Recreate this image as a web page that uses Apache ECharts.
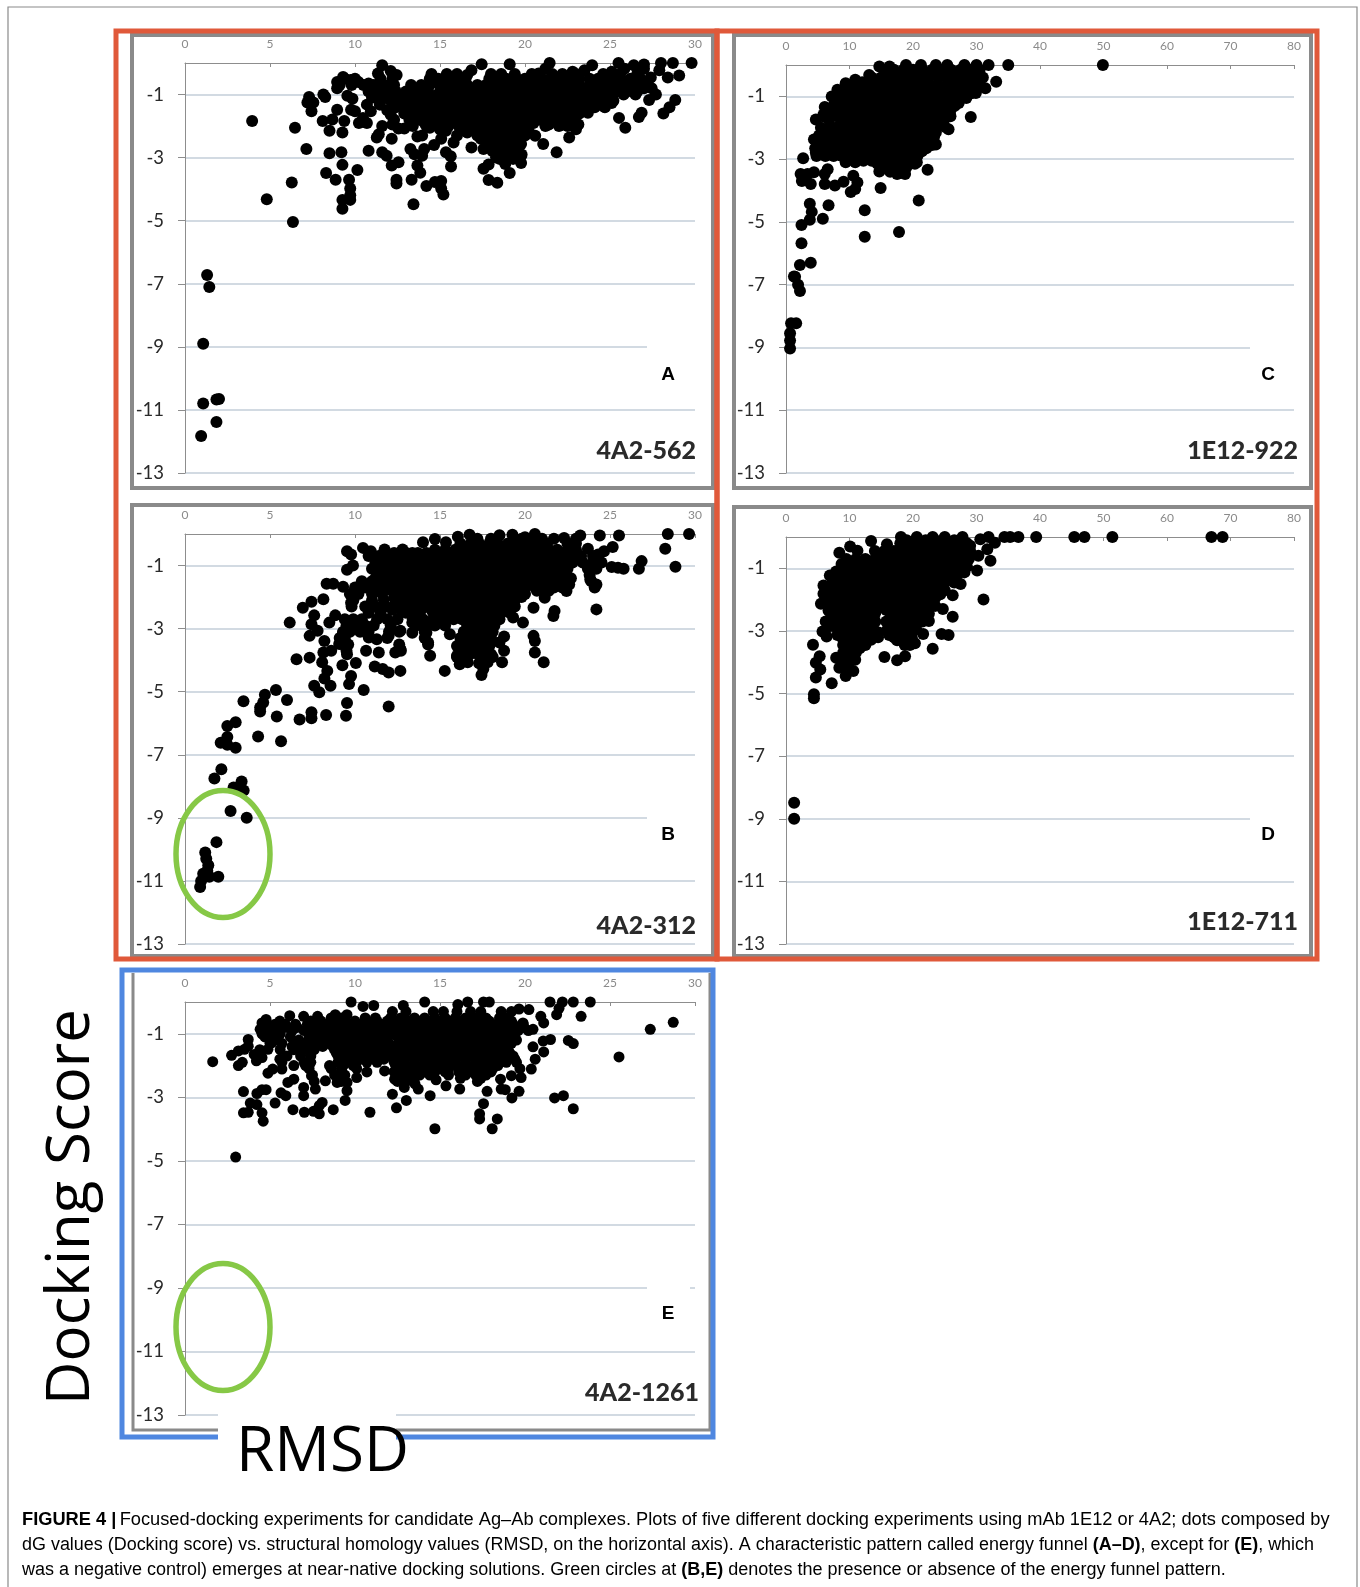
<!DOCTYPE html>
<html><head><meta charset="utf-8">
<style>html,body{margin:0;padding:0;background:#fff}#c{width:1360px;height:1587px}</style>
<script src="https://cdn.jsdelivr.net/npm/echarts@6/dist/echarts.min.js"></script>
</head><body><div id="c"></div>
<script>
const yTickValues=[-13,-11,-9,-7,-5,-3,-1];
const panelNames=['4A2-562','4A2-312','1E12-922','1E12-711','4A2-1261'];
const panelLetters=['A','B','C','D','E'];

const edgeA=[[3.95,-1.84],[6.47,-2.05],[7.14,-2.73],[6.28,-3.79],[4.81,-4.32],[6.35,-5.04],[1.3,-6.72],[1.43,-7.1],[1.07,-8.9],[1.07,-10.8],[1.85,-10.67],[2.0,-10.65],[1.85,-11.38],[0.95,-11.83],
[7.3,-1.08],[7.2,-1.25],[7.55,-1.25],[7.44,-1.53],[8.14,-1.0],[8.25,-1.08],[8.1,-1.84],[8.67,-1.79],[9.37,-1.84],[8.95,-1.48],[8.5,-2.15],[9.26,-2.2],[8.5,-2.86],[9.2,-2.83],[9.26,-3.23],[8.3,-3.49],[8.86,-3.7],[9.65,-3.7],[10.14,-3.39],[9.72,-3.98],[9.72,-4.19],[9.72,-4.34],[9.26,-4.34],[9.26,-4.62],[10.8,-2.78],[11.6,-2.83],[11.86,-2.94],[12.16,-3.25],[12.56,-3.15],[12.44,-3.7],[12.44,-3.82],[13.33,-3.7],[13.44,-4.48],[14.2,-3.9],[14.7,-3.77],[15.07,-3.74],[15.07,-3.98],[15.2,-4.17],[13.26,-2.73],[13.5,-2.89],[13.95,-2.94],[13.67,-3.25],[13.84,-3.48],[14.07,-2.73],[14.65,-2.6],[15.07,-2.4],[15.35,-2.83],[15.63,-2.96],[15.65,-3.28],[17.56,-3.35],[17.86,-3.22],[17.86,-3.71],[18.37,-3.8],[19.1,-3.49],[19.77,-3.17],[21.07,-2.57],[21.86,-2.83],[22.6,-2.36],[25.53,-1.74],[25.9,-2.05],[26.7,-1.71],[26.86,-1.58],[28.14,-1.6],[28.5,-1.4],[28.84,-1.17],
[29.8,0],[29.07,-0.4],[28,0],[28.7,0],[27,-0.05],[11.6,-0.07],[11.35,-0.33],[12.1,-0.25],[12.45,-0.38],[17.45,-0.04],[16.85,-0.23],[16.6,-0.38],[19.1,-0.04],[21.45,0],[21.2,-0.18],[20.8,-0.33],[23.95,-0.07],[23.5,-0.23],[22.8,-0.28],[25.5,0],[26.4,-0.07],[25.85,-0.18],[25.1,-0.28],[27,-0.18],[27.9,-0.23],[28.4,-0.46],[27.4,-0.46],
[9.3,-0.44],[8.95,-0.6],[8.95,-0.8],[9.75,-0.54],[10.2,-0.6],[10.8,-0.65],[9.55,-1.04],[9.85,-1.13],[9.77,-1.48],[10,-1.53],[10.7,-1.32],[10.93,-1.53],[10.47,-1.74],[10.23,-1.9],[10.7,-1.9],[11.46,-1.32],[11.6,-2],[11.4,-2.26],[11.28,-2.36],[12.16,-2.4],[12.1,-1.64],[12.3,-1.8],[12.2,-1.95],[12.56,-2.08],[12.9,-2.08],[13.4,-2],[13.67,-2.33],[13.95,-2.3],[14.4,-2.05],[15.35,-2.15],[15.8,-2.52],[16,-2.3],[16.6,-2.2],[16.85,-2.68],[17.56,-2.73],[17.9,-2.52],[18.5,-3.04],[18.84,-3.2],[19.3,-3.04],[19.77,-2.94],[19.77,-2.57],[20.6,-2.31],[21.2,-2],[21.4,-1.95],[22.1,-1.95],[23.14,-1.95],[23,-2.1],[23.7,-1.58],[24.65,-1.38],[25.1,-1.27],[27.3,-1.17],[27.7,-1],[27.45,-0.8],[26.5,-1],[25.8,-1]];
const coreA=[
[-0.35,[14.5,15.4,16,18,18.6,19.4,20.4,21.6,22.2,23,24.6,25.6,26.6]],
[-0.5,[9.4,10,11.5,12.2,14.4,14.9,15.5,16,16.5,17.9,18.4,18.9,19.5,20,20.5,21,21.5,22,22.6,23.2,23.8,24.3,25,25.6,26.2,26.8]],
[-0.6,[24.8,25.4,26,26.6,27.2]],
[-0.7,[9.1,9.8,10.5,11.1,11.7,12.3,13.3,13.9,14.4,15,15.5,16.1,16.6,17.2,17.7,18.3,18.8,19.4,19.9,20.5,21,21.6,22.1,22.7,23.2,23.8,24.3,24.9,25.4,26,26.5,27.1]],
[-0.8,[27,25.9,26.3,24.6,25.1]],
[-0.9,[10.8,11.3,11.9,12.4,13,13.5,14.1,15,15.5,16,16.6,17.1,17.7,18.2,18.8,19.3,19.9,20.4,21,21.5,22.1,22.6,23.2,23.7,24.3,24.8,25.4,26,26.6]],
[-1,[13.8,14.4,14.9]],
[-1.1,[11,11.7,12.3,12.9,13.4,15.2,15.7,16.2,16.8,17.3,17.9,18.4,19,19.5,20.1,20.6,21.2,21.7,22.3,22.8,23.4,23.9,24.5,25]],
[-1.2,[13.8,14.3,14.8,12.1,11.5,25.2,24.3,23.4]],
[-1.3,[12.6,13.2,13.7,14.3,14.8,15.4,15.9,16.5,17,17.6,18.1,18.7,19.2,19.8,20.3,20.9,21.4,22,22.5,23.1,23.6,24.1,24.6]],
[-1.4,[12.4,13,13.5,14,14.5,15,15.6,16.1,16.7,17.2,23.6,24.1,24.7,22.7,22.2]],
[-1.5,[11.9,13,13.6,14.1,14.7,15.2,15.8,16.3,16.9,17.4,18,18.5,19.1,19.6,20.2,20.7,21.3,21.8,22.4,22.9,23.4]],
[-1.6,[12.9,13.5,14.2,14.8,15.3,15.9,16.5,17,17.5,21.5,22,22.6,23.2]],
[-1.7,[13.9,14.5,15,15.6,16.2,17.4,17.9,18.5,19,19.6,20.1,20.7,21.2,21.8,22.3,22.8]],
[-1.8,[13.2,13.8,14.3,15,15.6,16.1,16.7,20.4,20.9,21.5,22,22.6]],
[-1.9,[14.1,14.8,15.4,16.6,17.2,17.7,18.3,18.8,19.4,19.9,20.5]],
[-2,[14.2,14.9,15.5,16.1,16.7,22,22.5]],
[-2.1,[15,16.4,17,17.5,18.1,18.6,19.2,19.7,20.2]],
[-2.3,[17.2,17.8,18.3,18.9,19.4,20]],
[-2.4,[17.4,18,18.6,19.2,19.7]],
[-2.5,[18,18.5,19,19.6]],
[-2.6,[18.2,18.8,19.3]],
[-2.7,[18.4,18.9,19.5]],
[-2.8,[18.1,18.7,19.2]],
[-2.9,[18.6,19.2,19.8]],
[-3,[18.3,18.8,19.3]]];

const edgeB=[[29.65,0],[28.4,0],[28.25,-0.47],[28.85,-1.04],[26.86,-0.86],[26.7,-1.1],[25.8,-1.1],[25.47,-1.07],[25.1,-1.05],[25.53,-0.05],[24.4,-0.05],[23.25,-0.05],[25.16,-0.41],[24.65,-0.55],[24.3,-0.65],[23.7,-0.47],[24.2,-2.39],[24.2,-1.6],[23.84,-1.44],[22.44,-1.81],[21.74,-2.44],[21.67,-2.6],[21.16,-2.02],[20.5,-2.34],[20.5,-3.23],[20.58,-3.39],[20.58,-3.76],[21.1,-4.07],[19.88,-2.81],[19.3,-2.65],[18.77,-3.25],[18.5,-3.44],[18.77,-3.7],[18.65,-4.07],[18,-3.81],[17.8,-4.07],[17.55,-4.28],[17.44,-4.47],[17.9,-3.55],[17,-3.23],[16.86,-3.44],[17,-3.76],[16.63,-4.07],[16.16,-4.13],[16,-3.86],[16,-3.55],[15.28,-4.34],[14.42,-3.86],[14.3,-3.44],[14.2,-3.13],[15.58,-3.18],[13.37,-3.13],[13.37,-2.81],[12.67,-3.07],[12.67,-3.65],[12.37,-3.76],[12.67,-4.34],[11.98,-4.39],[11.63,-4.28],[11.16,-4.2],[11.4,-3.76],[10.65,-3.7],[11.98,-3.23],[11.28,-3.34],[10.81,-3.28],[10.05,-4.09],[9.26,-4.16],[9.77,-4.5],[9.65,-4.76],[10.51,-4.95],[9.53,-5.36],[9.47,-5.76],[11.98,-5.47],[8.3,-5.74],[7.44,-5.65],[7.44,-5.84],[6.74,-5.88],[8.56,-4.81],[8.2,-4.58],[8.37,-4.34],[7.9,-5.02],[7.6,-4.81],[8.07,-4.07],[8.14,-3.76],[8.6,-3.7],[8.2,-3.39],[7.33,-3.92],[6.56,-3.97],[7.33,-3.23],[7.8,-3.07],[7.44,-2.86],[7.6,-2.58],[6.16,-2.81],[6.93,-2.34],[7.44,-2.15],[8.14,-2.07],[8.33,-1.58],[8.72,-1.58],[9.3,-1.67],[9.77,-2.18],[8.84,-2.58],[8.49,-2.81],[9.3,-3.13],[9.07,-3.49],[9.53,-3.81],
[9.53,-0.55],[9.77,-0.65],[9.53,-1.13],[9.88,-1],[10.47,-0.44],[10.93,-0.55],[11.74,-0.49],[12.8,-0.49],[13.37,-0.6],[14,-0.26],[14.7,-0.16],[15.35,-0.26],[16.05,-0.09],[16.74,-0.02],[18.5,-0.04],[19.26,-0.02],[20.58,0],[20,-0.1],[22.3,-0.13],
[5.35,-4.95],[4.7,-5.1],[6,-5.26],[3.44,-5.3],[4.6,-5.34],[4.42,-5.5],[4.42,-5.63],[5.4,-5.79],[2.98,-5.97],[2.49,-6.09],[4.3,-6.42],[5.65,-6.57],[2.49,-6.44],[2.1,-6.62],[2.49,-6.68],[2.98,-6.78],
[2.14,-7.46],[1.73,-7.75],[2.86,-8.04],[3.33,-7.85],[3.45,-8.13],[2.68,-8.78],[3.63,-9.0],[1.85,-9.77],[1.96,-10.87],[1.19,-10.1],[1.25,-10.3],[1.37,-10.5],[1.31,-10.68],[1.07,-10.77],[0.95,-11],[0.89,-11.19],[1.43,-10.87]];
const coreB=[
[-0.15,[17.2,18,19.8,20.6,21,21.7,23]],
[-0.3,[16.2,16.8,17.3,17.9,18.4,19,19.5,20.1,20.7,21.3,22.5,23]],
[-0.5,[14.7,15.3,15.9,16.4,17,17.5,18.1,18.6,19.2,19.7,20.3,20.8,21.4,21.9,22.5,23]],
[-0.6,[11.7,12.3,13,13.7,14.2]],
[-0.7,[10.8,11.4,12.1,12.7,13.3,13.9,14.4,15,15.5,16.1,16.6,17.2,17.7,18.3,18.8,19.4,19.9,20.5,21,21.6,22.1,22.7,23.3,24]],
[-0.8,[11.5,12.1,12.7,13.3,13.8]],
[-0.9,[11.2,11.7,12.3,12.9,13.5,14,14.6,15.1,15.7,16.2,16.8,17.3,17.9,18.4,19,19.5,20.1,20.6,21.2,21.7,22.3,22.8,23.4,24,24.5]],
[-1.1,[11,11.6,12.1,12.7,13.2,13.8,14.3,14.9,15.4,16,16.5,17.1,17.6,18.2,18.7,19.3,19.8,20.4,20.9,21.5,22,22.5,23.7,24.2]],
[-1.2,[11.3,12,12.6,13.1,13.7,14.2,14.8,15.3,15.8]],
[-1.3,[11.7,12.3,12.8,13.4,13.9,14.5,15,15.9,16.4,17,17.5,18.1,18.6,19.2,19.7,20.3,20.8,21.4,21.9,22.4,23.8]],
[-1.4,[11.2,11.8,12.4,13,13.5,14.1,14.6,15.2,15.7,21.1,21.7,22.2,22.7]],
[-1.5,[10.4,11,11.5,12.6,13.2,13.7,14.3,14.8,15.8,16.3,16.9,17.4,18,18.5,19.1,19.6,20.2,20.7,21.3,21.8,22.3,23.9]],
[-1.6,[12.2,12.8,13.4,13.9,14.4,15,15.5,21.4,22,22.6]],
[-1.7,[10,10.6,11.2,11.9,12.5,13,13.5,14.1,14.6,15.7,16.2,16.8,17.3,17.9,18.4,19,19.5,20,20.6,21.1,21.7,22.2,24.1]],
[-1.8,[11.4,12.2,12.8,13.3,13.8,14.3,14.9,15.4,20.7,21.4]],
[-1.9,[9.7,10.2,11,11.6,12.6,13.1,13.6,14.1,15.7,16.3,16.8,17.4,17.9,18.5,19,19.5,20]],
[-2,[12.3,13,13.6,14.2,14.8,15.3,19.8]],
[-2.1,[9.9,11,11.7,12.4,12.9,13.5,14.6,15.6,16.2,16.7,17.3,17.8,18.4,18.9,19.4]],
[-2.2,[13.1,13.7,14.3,15,15.4]],
[-2.3,[9.8,10.6,11.2,11.8,12.3,12.9,13.4,14,14.6,15.1,15.7,16.2,16.8,17.3,17.9,18.4,19,19.4]],
[-2.4,[12.2,12.7,13.3,13.9,14.5,15,15.5]],
[-2.5,[10.8,11.5,13,13.6,14.6,15.2,15.9,16.4,16.9,17.5,18,18.6,19.1]],
[-2.6,[14.8,15.4]],
[-2.7,[9.4,9.9,10.4,11.3,11.9,12.5,13.4,14,14.6,15.2,15.8,16.3,16.9,17.4,18,18.5]],
[-2.9,[9.5,10,10.6,11.1,12.1,13.6,14.1,14.7,15.3,16.6,17.1,17.7,18.2]],
[-3.1,[9.3,9.7,10.3,10.8,12,12.6,14.1,16.4,16.9,17.2,17.6,18.1]],
[-3.3,[9.1,9.4,11.9,14.1,16.2,16.8,17.1,17.4,17.6,18]],
[-3.5,[9.3,9.6,12.6,14.3,16.2,16.7,17,17.4,17.6,17.9]],
[-3.7,[9.5,12.7,16.2,16.6,17.7]],
[-3.8,[16.8,17.2,17.8]],
[-3.9,[16,16.5,17.7,18.1]],
[-4.1,[17.3,17.6]]];

const edgeC=[[49.9,0],[35,0],[33.1,-0.53],[31.4,-0.74],[31.9,0],[29.9,-0.89],[29.1,-1.66],[25.6,-2.05],[25,-1.97],[25.9,-1.63],[27.2,-1.21],[23.6,-2.53],[22.3,-3.34],[20.9,-4.32],[20.6,-3.1],[18.75,-3.47],[17.5,-3.47],[14.7,-3.39],[14.9,-3.92],[17.8,-5.32],[12.4,-4.63],[12.4,-5.47],[10.9,-3.95],[10.2,-4.05],[11.25,-3.74],[10.6,-3.53],[9.06,-3.72],[7.7,-3.84],[6.1,-3.79],[6.7,-4.47],[5.8,-4.9],[3.75,-4.42],[4.06,-4.68],[3.75,-4.93],[2.44,-5.1],[2.44,-5.68],[2.19,-6.37],[3.9,-6.3],[1.25,-6.74],[1.9,-7],[2.2,-7.2],
[2.7,-2.97],[2.3,-3.47],[3.4,-3.47],[4.4,-3.42],[2.5,-3.7],[3.9,-3.79],[6.1,-3.47],[6.56,-3.32],[4.7,-2.79],[4.4,-2.37],[4.7,-1.74],[6.1,-1.34],[5.9,-1.58],[7.2,-1],[8.1,-0.79],[9.4,-0.58],[10.9,-0.47],[13.1,-0.32],[14.7,-0.05],[16.3,-0.05],[18.9,0],[21.25,0],[23.6,0],[25.4,0],[28.1,0],[30,0],[30.3,-0.42],[9.4,-3.1],[10.9,-3.1],[9.9,-2.95],
[1.43,-6.75],[0.8,-8.23],[1.6,-8.23],[0.64,-8.55],[0.64,-8.78],[0.64,-9.03]];
const coreC=[
[-0.15,[15.5,17,18.5,20,21.5,23,24.5,26,27.5,29,30.5]],
[-0.4,[13.5,15,16.5,18,19.5,21,22.5,24,25.5,27,28.5,29.5,31]],
[-0.55,[12,13.2,14.5]],
[-0.65,[11,12.3,13.6,14.9,16.2,17.5,18.8,20.1,21.4,22.7,24,25.3,26.6,27.9,29.2,30.2]],
[-0.8,[9.3,10.5,11.8]],
[-0.9,[8.6,9.9,11.2,12.5,13.8,15.1,16.4,17.7,19,20.3,21.6,22.9,24.2,25.5,26.8,28.1,29.2]],
[-1.0,[8.2,9.4,10.8,12,13.2]],
[-1.05,[27.6,28.4,26.5]],
[-1.15,[8,10.5,11.8,13.1,14.4,15.7,17,18.3,19.6,20.9,22.2,23.5,24.8,26.1,27]],
[-1.25,[7.6,8.8,9.9,11.2]],
[-1.3,[26.6,25.5,24.3]],
[-1.4,[7,9,10.8,12.1,13.4,14.7,16,17.3,18.6,19.9,21.2,22.5,23.8,25.1,26]],
[-1.5,[7.8,9.4,10.4,11.6,12.9]],
[-1.55,[25.8,24.6,23.3]],
[-1.65,[6,8.3,9.6,11,12.3,13.6,14.9,16.2,17.5,18.8,20.1,21.4,22.7,24,25]],
[-1.75,[6.8,8.9,10.2,11.6,13]],
[-1.8,[24.8,23.6]],
[-1.9,[8.5,9.8,11.1,12.4,13.7,15,16.3,17.6,18.9,20.2,21.5,22.8,24]],
[-2.0,[5.5,6.7,7.9,9.1,10.3,11.7,13]],
[-2.15,[6.4,7.7,10.6,11.9,13.2,14.5,15.8,17.1,18.4,19.7,21,22.3,23.6]],
[-2.25,[5.2,5.9,7,8.3,9.4,10.9,12.4,13.8]],
[-2.3,[23.3,22.2]],
[-2.4,[5,6.3,7.6,8.8,10.8,12.1,13.6,15,16.3,17.6,18.9,20.2,21.5,22.8]],
[-2.5,[4.9,5.7,7,8.2,9.4,10.3,11.5,12.9,14.2]],
[-2.55,[23,21.7]],
[-2.65,[4.6,5.9,7.2,8.5,9.7,11.3,12.6,14.3,15.6,16.9,18.2,19.5,20.8,22.1]],
[-2.75,[4.9,5.4,6.6,7.8,9,10.4,12,13.3,14.9,16.2,17.5,18.8,20.1,21.4]],
[-2.9,[4.8,6.2,7.5,8.8,11.6,12.9,14.2,15.5,16.8,18.1,19.4,20.7]],
[-3.05,[12.2,13.5,14.8,16.1,17.4,18.7,19.7]],
[-3.15,[14.4,15.7,17,18.3,20.3]],
[-3.25,[15,16.3,17.7,19]],
[-3.4,[16.4,17.5]]];

const edgeD=[[68.75,0],[67,0],[51.4,0],[47,0],[45.4,0],[39.4,0],[36.6,0],[35.3,0],[34.4,0],[32.9,-0.18],[31.9,0],[30.6,-0.07],[31.7,-0.39],[32.2,-0.76],[30.3,-0.6],[30.1,-1.07],[31.1,-2],[28.1,-1.13],[27.5,-1.5],[26.25,-1.86],[26.25,-2.55],[24.7,-2.3],[25.6,-3.13],[24.5,-3.1],[23.1,-3.57],[22.5,-2.68],[21.6,-3.1],[20.3,-3.39],[18.75,-3.81],[17.5,-3.94],[15.5,-3.83],[16.25,-3.13],[13.4,-3.28],[14.06,-2.7],[11.6,-3.55],[10.9,-3.92],[10.6,-4.28],[9.4,-4.44],[8.4,-4.18],[7.9,-3.86],[7.2,-4.67],[4.7,-4.49],[5.4,-4.23],[4.7,-4.02],[5.3,-3.81],[4.25,-3.44],[4.4,-5.02],[4.4,-5.15],[5.75,-3.02],[6.25,-2.7],[5.5,-2.13],[5.9,-1.81],[5.9,-1.55],[6.9,-1.23],[8.4,-0.5],[10.1,-0.3],[11.25,-0.44],[13.4,-0.13],[15.9,-0.23],[18.1,0],[20.6,0],[23.1,0],[25,0],[27.8,0],[29,-0.28],[8.75,-0.86],[6.4,-3.18],[8.1,-3.13],[9.4,-3.39],[1.28,-8.49],[1.28,-9.0]];
const coreD=[
[-0.1,[19,22,23.5,25,26.5,27.8]],
[-0.2,[18,19.5,21,22.5,24,25.5,27,28.5]],
[-0.45,[14,15.5,17,18.5,20,21.5,23,24.5,26,27.5,29]],
[-0.58,[14.8,16.3,17.8,19.3,20.8,22.3,23.8,25.3,26.8,28.3]],
[-0.7,[9.5,11,12.5,14,15.5,17,18.5,20,21.5,23,24.5,26,27.5,28.8]],
[-0.83,[9.8,11.3,12.8,14.3,15.8,17.3,18.8,20.3,21.8,23.3,24.8,26.3,27.8]],
[-0.95,[9,10.5,12,13.5,15,16.5,18,19.5,21,22.5,24,25.5,27,28.5]],
[-1.08,[9.9,11.3,12.8,14.3,15.8,17.3,18.8,20.3,21.8,23.3,24.8,26.3]],
[-1.1,[7.9,9.2]],
[-1.2,[9.2,10.7,12.2,13.7,15.2,16.7,18.2,19.7,21.2,22.7,24.2,25.7,27]],
[-1.33,[10.7,12.2,13.7,15.2,16.7,18.2,19.7,21.2,22.7,24.2,25.7]],
[-1.35,[7.3,8.9,9.7]],
[-1.45,[7.5,10,11.5,13,14.5,16,17.5,19,20.5,22,23.5,25,26.5]],
[-1.58,[8.5,10.8,12.3,13.8,15.3,16.8,18.3,19.8,21.3,22.8,24.3]],
[-1.6,[6.8,7.8,9.3]],
[-1.7,[7,8.5,10,11.5,13,14.5,16,17.5,19,20.5,22,23.5,25]],
[-1.83,[9.3,10.8,12.3,13.8,15.3,16.8,18.3,19.8,21.3,22.8,24.3]],
[-1.85,[6.3,7.7,8.7]],
[-1.95,[7,8.5,10,11.5,13,14.5,16,17.5,19,20.5,22,23.5]],
[-2.08,[9.3,10.8,12.3,13.8,15.3,16.8,18.3,19.8,21.3,22.8]],
[-2.1,[6.4,7.7,8.6]],
[-2.2,[7.5,9,10.5,12,13.5,15,16.5,18,19.5,21,22.5,23.5]],
[-2.33,[8.3,9.8,11.3,12.8,14.3,15.8,17.3,18.8,20.3,21.8]],
[-2.35,[6.7,7.5,8.9]],
[-2.45,[8,9.5,11,12.5,14,16.5,18,19.5,21,22.5]],
[-2.58,[8.8,10.3,11.8,13.3,17.2,18.7,20.2,21.7]],
[-2.6,[7,7.8]],
[-2.7,[8.5,10,11.5,13,15.8,17.3,18.8,20.3,21.5]],
[-2.83,[9.3,10.8,12.3,16.5,18,19.5]],
[-2.85,[6.8,7.6,8.8]],
[-2.95,[8.2,9.5,11,12.5,13.8,16,17.5,19,20.5]],
[-3.05,[9.2,10.6,11.6,13,14.6,16.6,18,19.5]],
[-3.2,[8.8,10.2,12,14.5,17,18.5,19.8]],
[-3.3,[9.7,10.9,12,17.5]],
[-3.45,[9,10.5,12.5,18.7,19.5]],
[-3.6,[9.5,10.5,11]],
[-3.7,[9,10,11]],
[-3.85,[9.2,10.2]],
[-3.95,[8.7,9.6]],
[-4.1,[9.2,9.8]]];

const edgeE=[[1.63,-1.88],[2.98,-4.88],[2.74,-1.68],[3.14,-1.54],[3.14,-2],[3.37,-1.9],[3.72,-1.18],[3.72,-1.39],[3.5,-1.49],[4.07,-1.65],[4.2,-1.85],[4.53,-1.75],[3.44,-2.82],[4.23,-2.88],[4.53,-2.76],[4.77,-2.76],[4.88,-2.24],[5.16,-2.11],[3.84,-3.18],[4.23,-3.23],[3.44,-3.49],[3.72,-3.47],[4.53,-3.49],[4.6,-3.75],[5.3,-3.18],[5.65,-2.86],[5.93,-2.95],[6.35,-3.39],[6.05,-2.53],[6.4,-2.43],[7.02,-3.47],[7.56,-3.44],[7.9,-3.52],[8.72,-3.39],[8.07,-3.16],[7.9,-3.26],[6.98,-2.95],[6.98,-2.69],[7.67,-2.74],[9.42,-3.1],[9.53,-2.79],[10.88,-3.47],[12.44,-3.33],[13.02,-3.1],[12.2,-2.9],[12.9,-2.69],[13.72,-2.74],[14.42,-2.95],[14.7,-3.99],[13.53,-2.58],[14.77,-2.45],[15.35,-2.64],[16.16,-2.74],[17.56,-3.2],[17.33,-3.52],[17.33,-3.68],[18.37,-3.68],[18.07,-3.99],[17.77,-2.81],[18.6,-2.74],[18.84,-2.76],[18.56,-2.43],[19.23,-3.02],[19.65,-2.81],[19.77,-2.38],[19.2,-2.32],[20.37,-2.11],[20.6,-1.8],[21.1,-1.57],[21.07,-1.23],[21.5,-1.18],[20.47,-1.41],[22.55,-1.21],[22.84,-1.31],[21.74,-3.02],[22.26,-2.95],[22.84,-3.36],[25.53,-1.73],[27.37,-0.86],[28.72,-0.64],
[9.77,0],[10.47,-0.14],[11.1,-0.11],[12.84,-0.11],[14.1,0],[16.05,-0.08],[16.63,0],[17.56,0],[17.9,0],[21.47,0],[22.2,0],[22.84,0],[23.84,0],[21.86,-0.4],[23.3,-0.45],[22,-0.2],[20.93,-0.45],[21.1,-0.66],[20.23,-0.24],[19.65,-0.22],[20.47,-0.86],[19.88,-0.66],[6.16,-0.43],[5.58,-0.6],[4.77,-0.55],[4.53,-0.66],[4.42,-0.86],[4.53,-1],[6.98,-0.45],[7.8,-0.45],[8.84,-0.4],[9.53,-0.4],
[5.12,-1.28],[4.88,-1.49],[5.58,-1.8],[5.7,-2.11],[6.4,-2],[7.1,-2],[7.44,-2.32],[8.5,-2],[8.26,-2.48],[8.95,-2.53],[9.53,-2.53],[10.1,-2.38],[10.7,-2.2],[11.74,-2.17],[12.33,-2.43],[9.3,-2.32]];
const coreE=[
[-0.3,[12.2,13,14.6,15.2,16,16.8,17.4,18.6,19.2]],
[-0.5,[8.6,9.2,10.6,11.2,12.1,12.7,13.5,14.1,14.7,15.3,15.9,16.5,17.1,17.7,18.5,19]],
[-0.6,[7.4,8,8.8,9.4,10,10.6,11.3,11.9,12.5,13.1,13.7,14.3,14.9,15.5,16.1,16.7,17.3,17.9,18.6,19.2]],
[-0.7,[4.8,5.3,5.9,6.5,7.2,7.9,8.5,9.1,9.7,10.3,10.9,11.5,12.1,12.7,13.3,13.9,14.5,15.1,15.7,16.3,16.9,17.5,18.1,18.7,19.3,19.9]],
[-0.8,[5.3,6,6.6,7.3,7.9,8.5,9.1,9.7,10.3,10.9,11.5,12.1,12.7,13.3,13.9,14.5,15.1,15.7,16.3,16.9,17.5,18.1,18.7,19.3,19.9]],
[-0.9,[5,5.6,6.3,7,7.6,8.2,8.8,9.4,10,10.6,11.2,11.8,12.4,13,13.6,14.2,14.8,15.4,16,16.6,17.2,17.8,18.4,19,19.6,20.2]],
[-1,[4.9,5.6,7.6,8.2,8.8,9.4,10,10.6,11.2,12.2,12.8,13.4,14,14.6,15.2,15.8,16.4,17,17.6,18.2,18.8,19.4]],
[-1.1,[4.7,5.3,6.2,7.3,7.9,8.5,9.1,9.7,10.3,10.9,11.5,12.5,13.1,13.7,14.3,14.9,15.5,16.1,16.7,17.3,17.9,18.5,19.1]],
[-1.2,[6.7,7.6,8.2,8.8,9.4,10,10.6,11.2,11.9,12.8,13.4,14,14.6,15.2,15.8,16.4,17,17.6,18.2,18.8,19.5]],
[-1.3,[5,5.7,6.6,7.2,7.8,8.4,9,9.6,10.2,10.8,11.4,12,12.6,13.2,13.8,14.4,15,15.6,16.2,16.8,17.4,18,18.6,19.2]],
[-1.4,[6.3,7,7.5,8.1,8.7,9.3,9.9,10.5,11.1,11.7,12.3,12.9,13.5,14.1,14.7,15.3,15.9,16.5,17.1,17.7,18.3,18.9]],
[-1.5,[4.4,5.6,6.4,7,7.6,8.8,9.4,10,10.6,11.2,11.8,12.4,13,13.6,14.2,14.8,15.4,16,16.6,17.2,17.8,18.4,19]],
[-1.6,[8.9,9.5,10.1,10.7,11.3,11.9,12.5,13.1,13.7,14.3,14.9,15.5,16.1,16.7,17.3,17.9,18.5,19.1]],
[-1.7,[6,6.8,7.4,9,9.6,10.2,10.8,11.4,12,12.6,13.2,13.8,14.4,15,15.6,16.2,16.8,17.4,18,18.6,19.3]],
[-1.8,[9.3,9.9,10.5,11.1,11.7,12.3,12.9,13.5,14.1,14.7,15.3,15.9,16.5,17.1,17.7,18.3,18.9,19.4]],
[-1.9,[5.7,7,7.4,9,9.5,10.1,10.7,11.3,12.3,12.9,13.5,14.1,14.7,15.3,15.9,16.5,17.1,17.7,18.3,18.9,19.5]],
[-2,[9.3,9.9,12.4,13,13.6,14.2,14.8,15.4,16,16.6,17.2,17.8,18.4]],
[-2.1,[7.3,8.6,9.2,10.1,12.5,13.1,13.7,14.3,14.9,15.5,16.1,16.9,17.5,18.1,19.7]],
[-2.2,[13,13.5,14.1,14.7,15.3,16.1,16.7,17.3,18,12.3]],
[-2.3,[7.5,8.8,9.4,12.6,13.2,13.8,14.4,15.5,16.5,17.1,17.7]],
[-2.4,[12.9,13.5,16.2,17.4]],
[-2.5,[7.6,9.2,12.5,13,17.2]]];

function joinPoints(edge,core){
  const out=edge.slice();
  core.forEach(r=>r[1].forEach(x=>out.push([x,r[0]])));
  return out;
}
const layouts=[
 {left:185,top:63,width:510,height:410,xMax:30,xStep:5,data:joinPoints(edgeA,coreA),size:12,letter:[668,374],name:[696,451]},
 {left:185,top:534,width:510,height:410,xMax:30,xStep:5,data:joinPoints(edgeB,coreB),size:12,letter:[668,834],name:[696,926]},
 {left:786,top:65,width:508,height:408,xMax:80,xStep:10,data:joinPoints(edgeC,coreC),size:12,letter:[1268,374],name:[1298,451]},
 {left:786,top:537,width:508,height:407,xMax:80,xStep:10,data:joinPoints(edgeD,coreD),size:12,letter:[1268,834],name:[1298,922]},
 {left:185,top:1002,width:510,height:413,xMax:30,xStep:5,data:joinPoints(edgeE,coreE),size:11,letter:[668,1313],name:[699,1393]}
];
const axisGray='#8d8d8d', gridBlue='#c3ced9';
const option={animation:false,backgroundColor:'#fff',
 grid:layouts.map(l=>({left:l.left,top:l.top,width:l.width,height:l.height,containLabel:false})),
 xAxis:layouts.map((l,i)=>({gridIndex:i,type:'value',position:'top',min:0,max:l.xMax,interval:l.xStep,
   axisLine:{show:true,onZero:false,lineStyle:{color:axisGray,width:1}},
   axisTick:{show:true,inside:true,length:4,lineStyle:{color:axisGray}},
   axisLabel:{show:true,margin:13,fontSize:12,color:'#8a8a8a',fontFamily:'Lato'},
   splitLine:{show:false}})),
 yAxis:layouts.map((l,i)=>({gridIndex:i,type:'value',min:-13,max:0,interval:1,
   axisLine:{show:true,onZero:false,lineStyle:{color:axisGray,width:1}},
   axisTick:{show:true,length:7,customValues:yTickValues,lineStyle:{color:axisGray}},
   axisLabel:{show:true,customValues:yTickValues,margin:21,fontSize:18.5,color:'#2a2a2a',fontFamily:'Lato'},
   splitLine:{show:true,lineStyle:{color:gridBlue,width:1.5}}})),
 series:layouts.map((l,i)=>({type:'scatter',xAxisIndex:i,yAxisIndex:i,data:l.data,symbol:'circle',symbolSize:l.size,clip:false,itemStyle:{color:'#000',opacity:1},z:5,silent:true})),
 graphic:{elements:[]}
};
const g=option.graphic.elements;
function box(x1,y1,x2,y2,color,w,z){g.push({type:'rect',z:z,shape:{x:x1,y:y1,width:x2-x1,height:y2-y1},style:{fill:null,stroke:color,lineWidth:w}});}
function patch(x1,y1,x2,y2,z){g.push({type:'rect',z:z,shape:{x:x1,y:y1,width:x2-x1,height:y2-y1},style:{fill:'#fff'}});}
function txt(x,y,s,font,color,align,z,extra){g.push(Object.assign({type:'text',z:z,x:x,y:y,style:{text:s,font:font,fill:color,align:align||'left',verticalAlign:'middle'}},extra||{}));}
g.push({type:'polyline',z:30,shape:{points:[[8,1587],[8,7],[1357,7],[1357,1587]]},style:{fill:null,stroke:'#8a8a8a',lineWidth:1.2}});
box(132,35,713,488,'#8a8a8a',4,31);
box(132,505,713,956,'#8a8a8a',4,31);
box(734,35,1311,488,'#8a8a8a',4,31);
box(734,507,1311,956,'#8a8a8a',4,31);
g.push({type:'polyline',z:31,shape:{points:[[133,973],[133,1430],[710,1430],[710,973]]},style:{fill:null,stroke:'#8a8a8a',lineWidth:3}});
box(116,31,717,959,'#e0593a',5,32);
box(717,31,1317,959,'#e0593a',5,32);
box(122,970,713,1437,'#4f87e0',5,32);
patch(647,340,703,354,20);patch(647,809,703,823,20);patch(1250,340,1305,354,20);patch(1250,812,1305,826,20);patch(647,1282,690,1296,20);
layouts.forEach((l,i)=>{
 txt(l.letter[0],l.letter[1]+1,panelLetters[i],'bold 19px "Liberation Sans"','#000','center',40);
 txt(l.name[0],l.name[1],panelNames[i],'900 25px Lato','#2a2a2a','right',40);
});
[[223,854],[223,1327]].forEach(c=>g.push({type:'ellipse',z:60,shape:{cx:c[0],cy:c[1],rx:47,ry:63.5},style:{fill:null,stroke:'#86c846',lineWidth:5.5}}));
patch(218,1408,396,1445,70);
g.push({type:'text',z:80,x:236,y:1484,style:{text:'RMSD',font:'62px "Open Sans"',fill:'#000',verticalAlign:'bottom'}});
g.push({type:'text',z:80,x:102,y:1405,rotation:Math.PI/2,style:{text:'Docking Score',font:'60px "Open Sans"',fill:'#000',align:'left',verticalAlign:'bottom'}});
function richFor(size){return {n:{fontSize:size,fontFamily:'Liberation Sans',color:'#444'},b:{fontSize:size,fontFamily:'Liberation Sans',fontWeight:'bold',color:'#222'}};}
const captionLines=[
 '{b|FIGURE 4 |} {n|Focused-docking experiments for candidate Ag–Ab complexes. Plots of five different docking experiments using mAb 1E12 or 4A2; dots composed by}',
 '{n|dG values (Docking score) vs. structural homology values (RMSD, on the horizontal axis). A characteristic pattern called energy funnel }{b|(A–D)}{n|, except for }{b|(E)}{n|, which}',
 '{n|was a negative control) emerges at near-native docking solutions. Green circles at }{b|(B,E)}{n| denotes the presence or absence of the energy funnel pattern.}'];
const captionSizes=[18.25,17.95,18];
captionLines.forEach((s,i)=>g.push({type:'text',z:80,x:22,y:[1520,1545,1570][i],style:{text:s,rich:richFor(captionSizes[i]),verticalAlign:'middle'}}));

const chart=echarts.init(document.getElementById('c'),null,{renderer:'canvas'});
chart.setOption(option);
</script></body></html>
